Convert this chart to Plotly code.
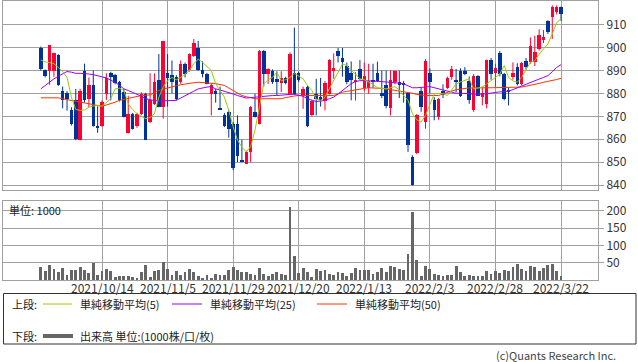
import plotly.graph_objects as go
import pandas as pd

# ---------------- data ----------------
holidays = ["2021-11-03", "2021-11-23", "2021-12-31", "2022-01-03", "2022-01-10",
            "2022-02-11", "2022-02-23", "2022-03-21"]
_days = [d for d in pd.bdate_range("2021-09-24", "2022-03-22")
         if d.strftime("%Y-%m-%d") not in holidays]
dates = [f"{d.year}/{d.month}/{d.day}" for d in _days]

opens = [900, 890.3, 889.7, 889.7, 897, 881, 880, 873, 877, 859.6,
         890, 877.4, 883.9, 866, 865.7, 879.6, 889, 888, 885, 880.6,
         862.8, 870.9, 865.6, 870.9, 879.9, 867.5, 875.5, 886, 874.3, 888.8,
         888, 887.1, 884.9, 892.9, 890.4, 896.5, 899.9, 890.3, 888.5, 879.9,
         881.3, 873.5, 870.7, 871.9, 866.8, 866.8, 850.6, 849.4, 854.5, 871.9,
         866.8, 898.7, 888.5, 890, 886.4, 884.5, 886.8, 879.9, 888.8, 888.8,
         879.1, 883, 870.4, 879.6, 878.5, 876.5, 879.9, 890, 898.7, 895.5,
         892, 889, 885, 890.7, 882.5, 882.5, 886, 888.8, 880.1, 883.5,
         873.6, 884.9, 885, 884.6, 880, 852.3, 853.8, 881.3, 867.5, 889,
         877, 869.7, 881, 882.5, 887.1, 886, 890, 890, 885.6, 872.6,
         887.8, 878.4, 875.5, 894.6, 889, 897.5, 888.3, 881.6, 887.4, 891.7,
         884.2, 894, 893.6, 893.6, 899.5, 903.3, 911.7, 913.5, 915.4, 917.8]
highs = [900.5, 890.5, 901, 897.8, 897.2, 883, 881, 874, 882, 882,
         893, 887, 890, 874.4, 877, 888.8, 889.5, 888.5, 885.5, 882,
         879, 871.5, 871.5, 880.5, 880.3, 888.8, 888.8, 897.2, 903, 897.2,
         894.4, 888, 894.4, 893.5, 897.5, 903.8, 903, 894, 889, 884.5,
         882, 883, 871.5, 872.5, 867.5, 870.4, 859.8, 855, 874.5, 879.9,
         899, 899, 891, 890.5, 889.7, 889.7, 887.3, 897.9, 908.8, 889.5,
         883, 883.5, 877, 886.4, 886.8, 885.5, 895, 897.5, 899.9, 899.9,
         893.5, 894, 889.3, 894.6, 893.5, 893, 893, 893.9, 890, 890,
         890, 890, 890, 885.5, 880.5, 853, 871, 882.5, 895, 891,
         878.4, 878, 884, 887.4, 892, 890.7, 891, 891.5, 887.4, 888.5,
         888, 883, 894.8, 895.5, 893, 898.5, 889, 882.5, 893.6, 893.2,
         893.8, 895.5, 904.5, 905.2, 908, 907.7, 912, 918.5, 918.5, 918]
lows = [890, 887, 883.8, 887.3, 883.3, 873.5, 872.5, 866, 859.6, 859.6,
        876, 874, 865.5, 862.8, 865.5, 877.2, 877, 884, 876.5, 869.5,
        862.5, 864.3, 865, 870.5, 859.6, 867, 875, 874, 869, 874.3,
        880, 877, 884.2, 887, 889.5, 896, 890, 887, 884, 870.4,
        876, 872.9, 865.3, 860.7, 846.5, 850, 850.1, 849.2, 850, 869.5,
        866.5, 883, 884.2, 884.2, 879.1, 880.6, 884, 879.5, 879.5, 885,
        873.3, 865.3, 870, 870.4, 874.3, 872.6, 879.5, 886.4, 893.6, 887.3,
        884, 877, 876.9, 886, 881, 879.9, 882.5, 885, 878, 873.5,
        870.4, 884, 878, 876, 854.5, 839.8, 853.5, 872, 864.6, 880,
        868.3, 868.5, 878, 882, 886, 880.6, 878.5, 888, 875.5, 872,
        879, 874.8, 873.5, 886, 883, 887.5, 877, 874.8, 886, 883.5,
        883.5, 890.5, 893, 892, 898.7, 902, 906, 903.8, 914.5, 911.7]
closes = [890.5, 887.5, 901, 897.5, 883.5, 877, 877.5, 866.5, 860, 881,
          877, 883.9, 865.7, 865.3, 876.2, 886.8, 887, 884.5, 877, 869.7,
          870.9, 864.6, 870.9, 879.9, 859.8, 877, 884.9, 874.3, 903, 886.7,
          885, 877.4, 892.9, 888.5, 897.2, 901.9, 890.3, 888.5, 884.2, 883.9,
          879.9, 873, 865.6, 864.6, 847.5, 852.6, 850.2, 854.5, 874.1, 869.7,
          898.7, 888.5, 890.7, 884.9, 884.9, 886.8, 884.5, 897.2, 879.9, 886,
          882, 865.6, 876.5, 877.7, 877, 884.5, 894.6, 891, 896.5, 893.6,
          885, 886, 886.1, 886.4, 887.8, 885.6, 885, 885.6, 878.8, 874.4,
          886.1, 889.9, 883.5, 883.5, 857.4, 840, 870.4, 874.1, 894.3, 885,
          872.6, 877.7, 879.5, 886.8, 890.9, 885.3, 879.1, 888.3, 877, 887.8,
          879.1, 880.1, 894.6, 888.3, 891, 888.3, 877.7, 880.6, 888.8, 884.2,
          893.2, 891.7, 900.9, 898, 905.5, 904.8, 906.7, 917.8, 917.8, 914.6]
volumes = [39, 25, 42, 32, 24, 34, 16, 29, 29, 37,
           28, 19, 49, 16, 25, 31, 25, 9, 11, 11,
           12, 10, 5, 24, 44, 8, 26, 28, 51, 32,
           16, 26, 15, 24, 31, 22, 12, 7, 16, 6,
           17, 15, 14.5, 28, 38, 28, 22, 24, 16.4, 13.6,
           33.7, 18.4, 12.6, 18.4, 24, 18.4, 13.6, 210.5, 69, 21,
           33.7, 24, 9.8, 32.7, 26, 28, 18.4, 14.5, 24, 21,
           12.6, 21, 35.6, 28, 28, 28, 18.4, 24, 33.7, 24,
           41.3, 38.4, 32.7, 28, 73.8, 196, 56.6, 12.6, 41.3, 32.7,
           18.4, 13.6, 11.7, 15.5, 15.5, 41.3, 24, 10.7, 13.6, 12.6,
           10.7, 12.6, 27, 18.4, 27, 21, 29.8, 27, 38.4, 47,
           32.7, 27, 41.3, 38.4, 27, 35.6, 42.3, 47, 27, 11.7]
ma5 = [894.6, 893.8, 893.5, 893, 891.4, 889.5, 887, 878.4, 873, 872.6,
       872.8, 874, 874.5, 874.8, 874.4, 876, 877.7, 882, 882.3, 881.3,
       875.5, 873, 871.2, 870, 869, 869.5, 871.2, 878.4, 882.8, 885.6,
       887, 886, 887, 888.5, 890, 893, 895, 893.6, 892, 890,
       884.2, 881, 878.4, 872.6, 865.4, 859.6, 856.5, 854.5, 856.7, 864,
       874, 884.2, 886, 887, 889.3, 885.6, 886, 887, 888.8, 887.5,
       886.4, 883.5, 881.3, 877.5, 877, 878.4, 882, 886, 889.3, 892.9,
       892.2, 890, 888.5, 886.4, 886, 885, 884, 882.5, 882.3, 882,
       882.5, 883, 881.6, 879, 877, 871.2, 868.5, 867.5, 870.4, 875,
       879.9, 880, 879.9, 879.1, 881.5, 884.2, 885, 885.6, 886.4, 882,
       882.3, 882.8, 884.2, 885.5, 887, 888.5, 892.2, 887, 885.5, 884.9,
       887, 890.5, 893.6, 894.3, 897.2, 899.5, 901.6, 906, 911, 912.5]
ma25 = [882, 883.5, 885, 886.4, 887.5, 888.5, 889.6, 889.3, 888.8, 888.8,
        888.8, 888.5, 888.2, 887.8, 887.3, 886.8, 885.8, 884.9, 883.5, 882,
        881.3, 880.5, 879.9, 878.8, 877.7, 877.2, 876.9, 876.7, 876.7, 876.7,
        876.8, 877, 878, 879.1, 880, 881, 882, 882.5, 882.8, 883,
        882, 881.5, 881, 880.6, 879.8, 879.1, 878.5, 878, 878.2, 878.4,
        878.7, 879, 879.1, 879.1, 879.1, 879.3, 879.6, 879.6, 879.6, 879.1,
        878.8, 877.7, 877, 876.5, 876.7, 877, 877.7, 878.4, 879.8, 881.3,
        882.8, 884.3, 885.2, 885.6, 885.6, 885.6, 885.5, 885.3, 885.2, 885.1,
        885, 884.9, 884.5, 884.2, 883.5, 882.5, 882.5, 882.5, 882.8, 883,
        882.5, 882, 881.6, 881.3, 880.7, 880.1, 880.1, 880.1, 879.9, 879.7,
        879.6, 879.7, 879.9, 880.2, 880.6, 880.7, 880.8, 881, 881.7, 882.5,
        883.3, 884.2, 884.9, 885.6, 886.3, 887, 887.8, 889.5, 891.4, 892.6]
ma50 = [878.1, 878.1, 878.1, 878.1, 878.1, 877.7, 877.3, 877, 876.6, 876.2,
        875.9, 875.5, 875.1, 874.7, 874.4, 875, 875.5, 876.2, 877, 877.5,
        878, 878.4, 878.7, 879, 879.2, 879.4, 880.3, 881.3, 881.9, 882.5,
        883, 883.4, 883.8, 884.2, 884.5, 884.7, 884.9, 884.8, 884.7, 884.6,
        884.3, 883.9, 883.5, 882.4, 881.3, 880.2, 879.1, 878.6, 878.1, 877.7,
        877.7, 877.7, 877.7, 877.7, 877.7, 877.7, 878.2, 878.7, 878.9, 879.1,
        879.1, 879.1, 879.1, 879.1, 879.1, 879.1, 879.1, 879.1, 879.8, 880.6,
        880.9, 881.3, 881.6, 881.9, 882.2, 882.5, 882.5, 882.5, 882.2, 882,
        881.7, 881.3, 881, 880.8, 880.6, 880.1, 879.6, 879.3, 879.1, 879.1,
        879.1, 879.1, 879.8, 880.6, 881.1, 881.6, 882, 882.2, 882.4, 882.5,
        882.5, 882.5, 882.5, 882.5, 882.5, 882.5, 882.5, 882.5, 882.5, 882.5,
        882.8, 883.2, 883.5, 884, 884.4, 884.9, 885.2, 885.6, 886.1, 886.6]

price_ticks = [840, 850, 860, 870, 880, 890, 900, 910]
volume_ticks = [50, 100, 150, 200]
date_ticks = ["2021/10/14", "2021/11/5", "2021/11/29", "2021/12/20",
              "2022/1/13", "2022/2/3", "2022/2/28", "2022/3/22"]
legend_items = ["単純移動平均(5)", "単純移動平均(25)", "単純移動平均(50)"]

# ---------------- style ----------------
W, H = 638, 362
FONT = "Noto Sans CJK JP, Noto Sans, sans-serif"
UP, DOWN = "#ff0033", "#003399"
MA_COLORS = ["#99cc00", "#9900ff", "#ff3300"]
GRID = "#a0a0a0"
PL, PR = 3, 598           # plot area left/right px


def px_x(p):
    return (p - PL) / (PR - PL)


def px_y(p):
    return 1 - p / H


n = len(dates)
up = [i for i in range(n) if closes[i] >= opens[i]]
dn = [i for i in range(n) if closes[i] < opens[i]]

fig = go.Figure()


def wick(idx, color):
    xs, ys = [], []
    for i in idx:
        xs += [dates[i], dates[i], None]
        ys += [lows[i], highs[i], None]
    return go.Scatter(x=xs, y=ys, mode="lines", line=dict(color=color, width=1),
                      xaxis="x", yaxis="y", hoverinfo="skip", showlegend=False)


def body(idx, color):
    return go.Bar(x=[dates[i] for i in idx],
                  y=[max(abs(closes[i] - opens[i]), 0.35) for i in idx],
                  base=[min(opens[i], closes[i]) for i in idx],
                  marker=dict(color=color, line=dict(width=0)), width=0.8,
                  xaxis="x", yaxis="y", showlegend=False)


fig.add_trace(body(up, UP))
fig.add_trace(body(dn, DOWN))
fig.add_trace(wick(up, UP))
fig.add_trace(wick(dn, DOWN))
for vals, col in zip([ma50, ma25, ma5], [MA_COLORS[2], MA_COLORS[1], MA_COLORS[0]]):
    fig.add_trace(go.Scatter(x=dates, y=vals, mode="lines", line=dict(color=col, width=1),
                             xaxis="x", yaxis="y", showlegend=False))

fig.add_trace(go.Bar(x=dates, y=volumes, marker=dict(color="#666666", line=dict(width=0)),
                     width=0.65, xaxis="x2", yaxis="y2", showlegend=False))

xr = [-8.65, 127.46]
common_x = dict(type="category", categoryorder="array", categoryarray=dates, range=xr,
                tickvals=date_ticks, showgrid=True, gridcolor=GRID, gridwidth=1,
                showline=True, linecolor=GRID, linewidth=1, mirror=True,
                zeroline=False, automargin=False, ticks="", showticklabels=False)
fig.update_layout(
    width=W, height=H, template="none",
    margin=dict(l=PL, r=W - PR, t=0, b=0),
    paper_bgcolor="white", plot_bgcolor="white",
    barmode="overlay", bargap=0, showlegend=False,
    font=dict(family=FONT, size=12, color="#333333"),
    xaxis=dict(domain=[0, 1], anchor="y", **common_x),
    yaxis=dict(domain=[px_y(190.3), px_y(1)], range=[837.7, 920.4], side="right",
               tickvals=price_ticks, showgrid=True, gridcolor=GRID, gridwidth=1,
               showline=True, linecolor=GRID, linewidth=1, mirror=True,
               ticks="outside", ticklen=5, tickcolor=GRID, zeroline=False,
               automargin=False, tickfont=dict(size=12, color="#333333")),
    xaxis2=dict(domain=[0, 1], anchor="y2", **common_x),
    yaxis2=dict(domain=[px_y(280.4), px_y(201.3)], range=[0, 227], side="right",
                tickvals=volume_ticks, showgrid=True, gridcolor=GRID, gridwidth=1,
                showline=True, linecolor=GRID, linewidth=1, mirror=True,
                ticks="outside", ticklen=5, tickcolor=GRID, zeroline=False,
                automargin=False, tickfont=dict(size=12, color="#333333")),
)

# date labels under the volume panel, placed on the category axis
for d in date_ticks:
    fig.add_annotation(text=d, x=d, xref="x2", y=px_y(287.5), yref="paper",
                       xanchor="center", yanchor="middle", showarrow=False,
                       font=dict(size=12, color="#333333", family=FONT))

# unit label in the volume panel
fig.add_annotation(text="単位: 1000", x=px_x(7), y=px_y(209.5), xref="paper", yref="paper",
                   xanchor="left", yanchor="middle", showarrow=False,
                   font=dict(size=11, color="#222222", family=FONT))

# legend box
fig.add_shape(type="rect", xref="paper", yref="paper",
              x0=px_x(3.5), x1=px_x(636), y0=px_y(344), y1=px_y(293.5),
              line=dict(color="#333333", width=1), fillcolor="rgba(0,0,0,0)")

row1, row2 = 304, 336
fig.add_annotation(text="上段:", x=px_x(10), y=px_y(row1), xref="paper", yref="paper",
                   xanchor="left", yanchor="middle", showarrow=False,
                   font=dict(size=11, color="#222222", family=FONT))
fig.add_annotation(text="下段:", x=px_x(10), y=px_y(row2), xref="paper", yref="paper",
                   xanchor="left", yanchor="middle", showarrow=False,
                   font=dict(size=11, color="#222222", family=FONT))

seg = [(43, 72, 78), (172, 202, 208), (317, 347, 353)]
for (a, b, t), name, col in zip(seg, legend_items, MA_COLORS):
    fig.add_shape(type="line", xref="paper", yref="paper", x0=px_x(a), x1=px_x(b),
                  y0=px_y(row1), y1=px_y(row1), line=dict(color=col, width=1))
    fig.add_annotation(text=name, x=px_x(t), y=px_y(row1), xref="paper", yref="paper",
                       xanchor="left", yanchor="middle", showarrow=False,
                       font=dict(size=11, color="#222222", family=FONT))

fig.add_shape(type="line", xref="paper", yref="paper", x0=px_x(43), x1=px_x(73),
              y0=px_y(row2), y1=px_y(row2), line=dict(color="#666666", width=4))
fig.add_annotation(text="出来高 単位:(1000株/口/枚)", x=px_x(78), y=px_y(row2),
                   xref="paper", yref="paper", xanchor="left", yanchor="middle",
                   showarrow=False, font=dict(size=11, color="#222222", family=FONT))

fig.add_annotation(text="(c)Quants Research Inc.", x=px_x(618), y=px_y(354.5),
                   xref="paper", yref="paper", xanchor="right", yanchor="middle",
                   showarrow=False, font=dict(size=11, color="#444444", family=FONT))

fig.write_html("out.html")
